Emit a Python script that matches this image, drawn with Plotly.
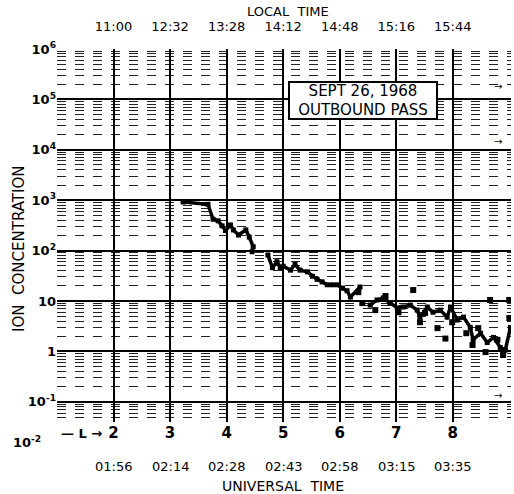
import plotly.graph_objects as go

# ---- data ----
# main trace (None = gap in the record)
L_shell = [3.23, 3.67, 3.76, 3.85, 3.92, 3.98, 4.07, 4.12, 4.21, 4.34, 4.40, 4.47, 4.45,
           None,
           4.73, 4.81, 4.89, 4.95, 5.00, 5.13, 5.21, 5.30, 5.43, 5.52, 5.60, 5.69,
           5.78, 5.87, 5.96, 6.05, 6.13, 6.19, 6.36,
           None,
           6.54, 6.66, 6.77, 6.89, 7.02, 7.12, 7.25, 7.37, 7.42, 7.55, 7.65, 7.78, 7.90,
           7.96, 8.08, 8.19, 8.31, 8.36, 8.49, 8.61, 8.72, 8.84, 8.93, 9.02]
ion_conc = [920, 830, 420, 390, 310, 250, 322, 257, 204, 257, 186, 120, 95,
            None,
            82, 46, 60, 46, 49, 41, 53, 41, 38, 31, 27, 24,
            21, 21, 21, 18, 16, 12, 19,
            None,
            8.3, 10.5, 11.5, 9.1, 7.3, 7.6, 8.3, 6.6, 4.8, 7.6, 6.0, 6.6, 4.8,
            7.6, 4.2, 4.8, 3.0, 1.7, 2.3, 1.5, 1.9, 1.2, 1.07, 3.0]
# scattered points in the noisy outer part of the pass
L_scatter = [6.33, 6.40, 6.63, 6.81, 7.04, 7.30, 7.42, 7.51, 7.73, 7.87, 7.99,
             8.24, 8.35, 8.45, 8.58, 8.66, 8.79, 8.89, 9.00, 9.00]
conc_scatter = [15, 9.1, 6.6, 12.6, 6.0, 16.5, 3.8, 5.8, 2.9, 1.8, 3.8,
                2.3, 1.34, 2.9, 0.97, 10.5, 1.7, 0.85, 10.5, 4.6]

L_ticks = [2, 3, 4, 5, 6, 7, 8]
L_labels = ["2", "3", "4", "5", "6", "7", "8"]
local_time = ["11:00", "12:32", "13:28", "14:12", "14:48", "15:16", "15:44"]
universal_time = ["01:56", "02:14", "02:28", "02:43", "02:58", "03:15", "03:35"]
y_tickvals = [1e-1, 1, 10, 1e2, 1e3, 1e4, 1e5, 1e6]
y_ticktext = ["10<sup>-1</sup>", "1", "10", "10<sup>2</sup>", "10<sup>3</sup>",
              "10<sup>4</sup>", "10<sup>5</sup>", "10<sup>6</sup>"]

FONT = "DejaVu Sans"
INK = "black"

fig = go.Figure()
fig.add_trace(go.Scatter(
    x=L_shell, y=ion_conc, mode="lines+markers",
    line=dict(color=INK, width=3.5),
    marker=dict(color=INK, size=5, symbol="square"),
    connectgaps=False, showlegend=False, hoverinfo="skip"))
fig.add_trace(go.Scatter(
    x=L_scatter, y=conc_scatter, mode="markers",
    marker=dict(color=INK, size=6, symbol="square"),
    showlegend=False, hoverinfo="skip"))
# empty trace to bring up the top (local time) axis
fig.add_trace(go.Scatter(x=[], y=[], xaxis="x2", showlegend=False, hoverinfo="skip"))

fig.update_layout(
    width=514, height=494,
    margin=dict(l=57, r=3, t=49, b=72),
    paper_bgcolor="white", plot_bgcolor="white",
    font=dict(family=FONT, color=INK),
    xaxis=dict(range=[1, 9.03], tickmode="array", tickvals=L_ticks, ticktext=L_labels,
               showgrid=True, gridcolor=INK, gridwidth=1.5, zeroline=False,
               showline=False, ticks="", automargin=False,
               tickfont=dict(size=15, family=FONT, weight="bold")),
    xaxis2=dict(range=[1, 9.03], overlaying="x", side="top", tickmode="array",
                tickvals=L_ticks, ticktext=local_time, showgrid=False, zeroline=False,
                showline=False, ticks="", automargin=False, ticklabelstandoff=14,
                tickfont=dict(size=13, family=FONT)),
    yaxis=dict(type="log", range=[-1.4, 6], tickmode="array", tickvals=y_tickvals,
               ticktext=y_ticktext, showgrid=True, gridcolor=INK, gridwidth=2,
               zeroline=False, showline=False, ticks="", automargin=False,
               tickfont=dict(size=13, family=FONT, weight="bold"),
               minor=dict(showgrid=True, gridcolor="#222", gridwidth=1, dtick="D1",
                          griddash="dash", ticks="")),
)

# universal time labels under the L labels
for lt, ut in zip(L_ticks, universal_time):
    fig.add_annotation(x=lt, xref="x", y=-0.118, yref="paper", text=ut,
                       showarrow=False, font=dict(size=13, family=FONT),
                       xanchor="center", yanchor="middle")

fig.add_annotation(x=0.497, xref="paper", y=-0.172, yref="paper",
                   text="UNIVERSAL&nbsp; TIME",
                   showarrow=False, font=dict(size=14, family=FONT), yanchor="middle")
fig.add_annotation(x=0.509, xref="paper", y=1.101, yref="paper", text="LOCAL&nbsp; TIME",
                   showarrow=False, font=dict(size=13, family=FONT), yanchor="middle")
fig.add_annotation(x=-0.0837, xref="paper", y=0.464, yref="paper",
                   text="ION&nbsp; CONCENTRATION", textangle=-90,
                   showarrow=False, font=dict(size=15, family=FONT),
                   xanchor="center", yanchor="middle")
fig.add_annotation(x=-0.03, xref="paper", y=-0.054, yref="paper", text="10<sup>-2</sup>",
                   showarrow=False, font=dict(size=13, family=FONT, weight="bold"),
                   xanchor="right", yanchor="middle")
fig.add_annotation(x=0.1035, xref="paper", y=-0.03, yref="paper", text="— L →",
                   showarrow=False, font=dict(size=13, family=FONT, weight="bold"),
                   xanchor="right", yanchor="middle")
# small scale arrows at the right edge
for ya in [0.90, 0.752, 0.07]:
    fig.add_annotation(x=0.985, xref="paper", y=ya, yref="paper", text="→",
                       showarrow=False, font=dict(size=10, family=FONT),
                       yanchor="middle")

fig.add_annotation(x=6.42, xref="x", y=4.97, yref="y",
                   text="SEPT 26, 1968<br>OUTBOUND PASS", showarrow=False,
                   font=dict(size=15, family=FONT), align="center",
                   width=146, height=35,
                   bordercolor=INK, borderwidth=2, borderpad=0, bgcolor="white")

fig.write_html("out.html", config={"displayModeBar": False},
               post_script="document.body.style.margin='0px';")
